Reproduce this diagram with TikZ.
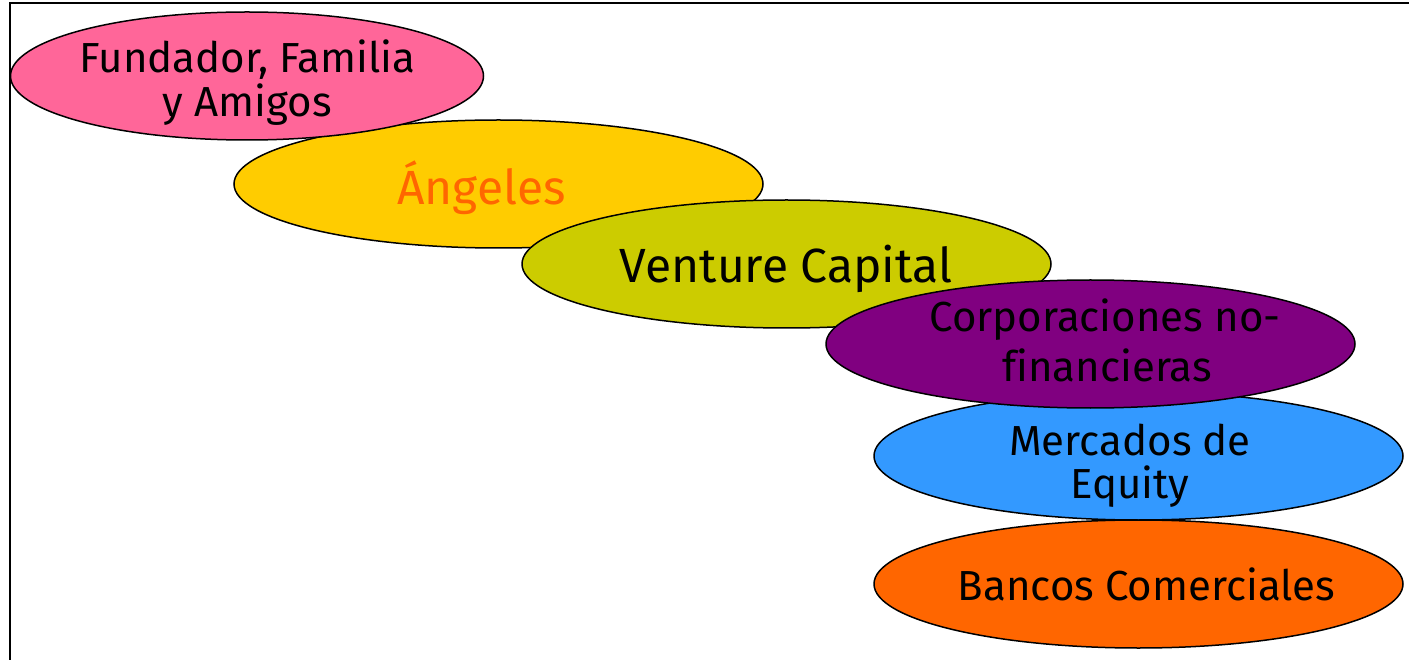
\documentclass[tikz,border=0pt]{standalone}
\usepackage{fontspec}
\setmainfont{Fira Sans}[Ligatures=CommonOff]
\usetikzlibrary{shapes.geometric}
\definecolor{cpink}{HTML}{FF6699}
\definecolor{cyellow}{HTML}{FFCC00}
\definecolor{colive}{HTML}{CCCC00}
\definecolor{cpurple}{HTML}{800080}
\definecolor{cblue}{HTML}{3399FF}
\definecolor{corange}{HTML}{FF6600}
\begin{document}
\begin{tikzpicture}[x=1pt,y=-1pt,
  oval/.style={ellipse, draw=black, line width=1.5pt, inner sep=0pt, minimum width=529pt, minimum height=128pt},
  lbl/.style={align=center, inner sep=0pt, text=black},
  small/.style={font=\fontsize{42}{46}\selectfont},
  big/.style={font=\fontsize{48}{54}\selectfont}]
\useasboundingbox (0,0) rectangle (1409,660);
\draw[line width=2pt] (10,700) coordinate (fa) -- (10,3.5) coordinate (fb) -- (1420,3.5) coordinate (fc);
% ellipses
\node[oval, fill=cyellow] (ang) at (498.5,184) {};
\node[oval, fill=cpink, minimum width=473pt] (fun) at (247,76) {};
\node[oval, fill=colive] (ven) at (786.5,264) {};
\node[oval, fill=cblue] (mer) at (1138.5,456) {};
\node[oval, fill=corange] (ban) at (1138.5,584) {};
\node[oval, fill=cpurple] (cor) at (1090.5,344) {};
% labels
\node[lbl, small] (tfun1) at (247.5,60) {Fundador, Familia};
\node[lbl, small] (tfun2) at (247.5,105) {y Amigos};
\node[lbl, big, text=corange, anchor=base] (tang) at (481.5,205) {Ángeles};
\node[lbl, big, anchor=base] (tven) at (786,283) {Venture Capital};
\node[lbl, small] (tcor1) at (1105,320) {Corporaciones no-};
\node[lbl, small] (tcor2) at (1107,365) {financieras};
\node[lbl, small] (tmer1) at (1130,440) {Mercados de};
\node[lbl, small] (tmer2) at (1130,487) {Equity};
\node[lbl, small, anchor=base] (tban) at (1146.5,600) {Bancos Comerciales};
\end{tikzpicture}
\end{document}
